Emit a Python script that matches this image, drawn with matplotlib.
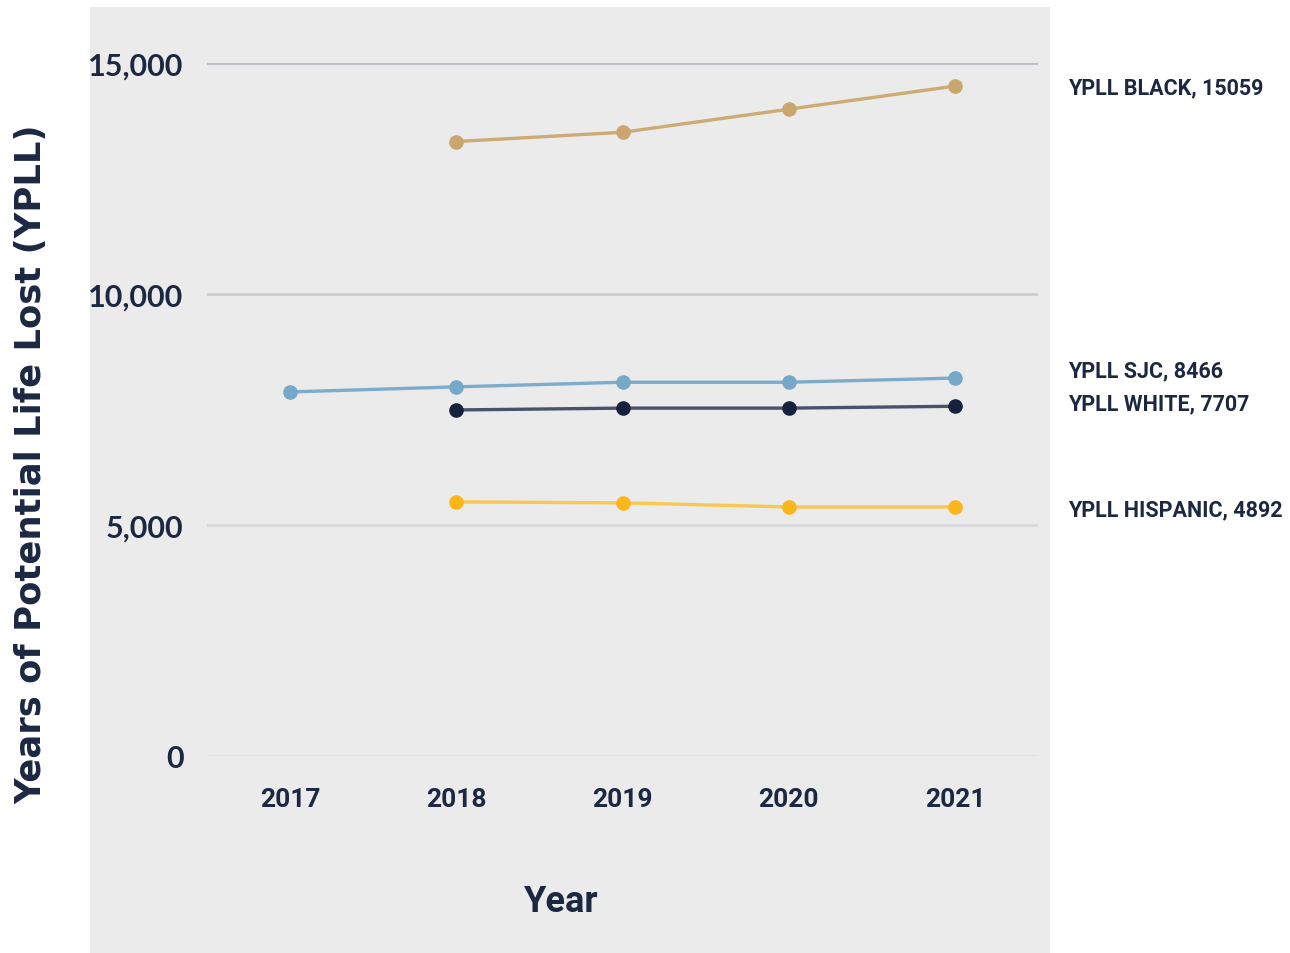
import matplotlib
matplotlib.use("Agg")
import matplotlib.pyplot as plt
from matplotlib.patches import Rectangle

years = [2017, 2018, 2019, 2020, 2021]
black_years = [2018, 2019, 2020, 2021]
black_vals = [13300, 13500, 14000, 14500]
sjc_years = [2017, 2018, 2019, 2020, 2021]
sjc_vals = [7880, 7990, 8090, 8090, 8180]
white_years = [2018, 2019, 2020, 2021]
white_vals = [7490, 7530, 7530, 7570]
hisp_years = [2018, 2019, 2020, 2021]
hisp_vals = [5500, 5480, 5390, 5390]
y_ticks = [0, 5000, 10000, 15000]
y_tick_labels = ["0", "5,000", "10,000", "15,000"]
end_labels = ["YPLL BLACK, 15059", "YPLL SJC, 8466", "YPLL WHITE, 7707", "YPLL HISPANIC, 4892"]

NAVY = "#1c2842"
FONT = ["Lato", "DejaVu Sans"]
COND = ["Liberation Sans Narrow", "Roboto", "DejaVu Sans"]

W, H = 1290, 954
fig = plt.figure(figsize=(W / 100, H / 100), dpi=100)
fig.patch.set_facecolor("white")
bg = fig.add_axes([0, 0, 1, 1], zorder=0)
bg.set_axis_off()
bg.set_xlim(0, W)
bg.set_ylim(H, 0)
bg.add_patch(Rectangle((90, 8), 960, H - 8, facecolor="#ebebeb", edgecolor="none"))

ax = fig.add_axes([207 / W, 1 - 757 / H, (1038 - 207) / W, (757 - 64) / H], zorder=2)
ax.set_facecolor("none")
ax.set_xlim(2016.5, 2021.5)
ax.set_ylim(0, 15000)
for s in ax.spines.values():
    s.set_visible(False)

grid_colors = ["#e3e3e6", "#d9d9dc", "#cdcdd1", "#b9bcc4"]
for v, c in zip(y_ticks, grid_colors):
    ax.axhline(v, color=c, lw=2, zorder=1)

series = [
    (black_years, black_vals, "#cdab74", "#c9a66e"),
    (sjc_years, sjc_vals, "#7eaccb", "#76a8c8"),
    (white_years, white_vals, "#48526a", "#16213d"),
    (hisp_years, hisp_vals, "#f9c850", "#fbb61a"),
]
for xs, ys, lc, mc in series:
    ax.plot(xs, ys, color=lc, lw=2.4, zorder=3, solid_capstyle="round")
    ax.plot(xs, ys, ls="none", marker="o", ms=9.5, color=mc, zorder=4, clip_on=False)

ax.set_yticks(y_ticks)
ax.set_yticklabels(y_tick_labels, fontsize=22, color=NAVY, family=FONT, fontweight="bold")
ax.set_xticks(years)
ax.set_xticklabels([str(y) for y in years], fontsize=19, color=NAVY, family=COND, fontweight="bold")
ax.tick_params(axis="y", length=0, pad=17)
ax.tick_params(axis="x", length=0, pad=22)

fig.text(561 / W, 1 - 902 / H, "Year", ha="center", va="center", fontsize=26, color=NAVY,
         family=COND, fontweight="bold")
fig.text(31 / W, 1 - 464 / H, "Years of Potential Life Lost (YPLL)", rotation=90,
         ha="center", va="center", fontsize=25.5, color=NAVY,
         family=["DejaVu Sans"], fontweight="bold")

label_y = [88, 371, 404, 510]
for t, yy in zip(end_labels, label_y):
    fig.text(1068 / W, 1 - yy / H, t, ha="left", va="center", fontsize=15.5, color=NAVY,
             family=COND, fontweight="bold")

fig.savefig("out.png", dpi=100)
